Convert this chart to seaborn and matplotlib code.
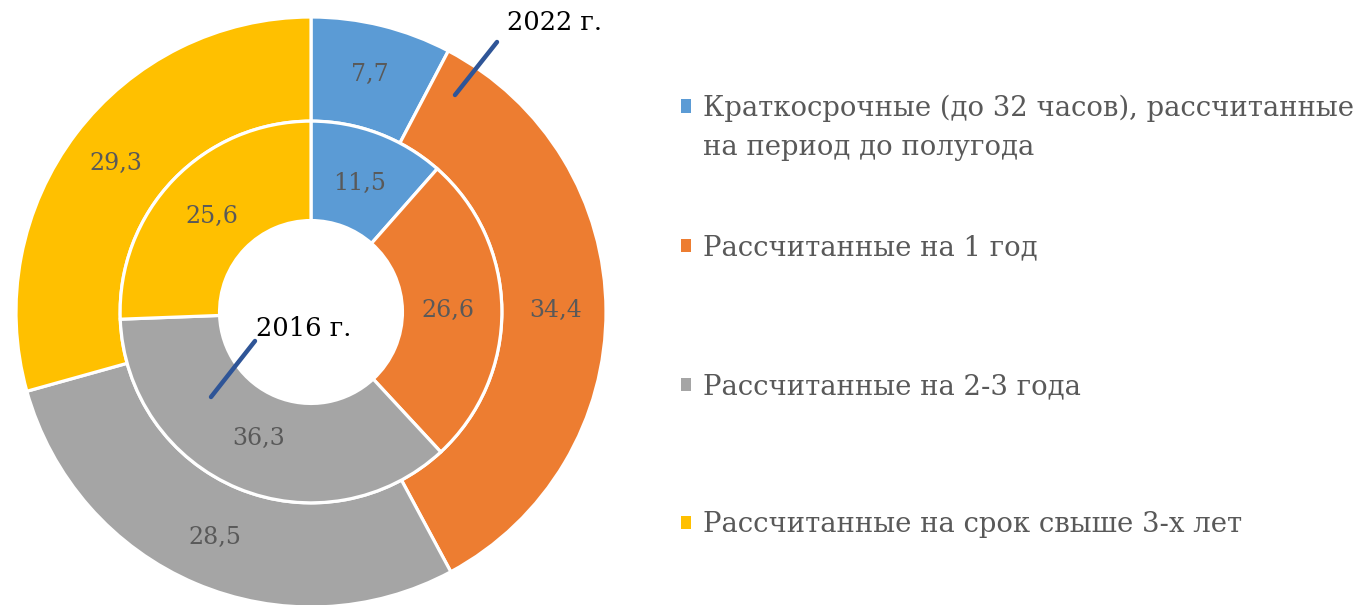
import matplotlib
matplotlib.use("Agg")
import matplotlib.pyplot as plt
import matplotlib.patches as mpatches
import seaborn as sns
import numpy as np

categories = ["Краткосрочные (до 32 часов), рассчитанные",
              "Рассчитанные на 1 год",
              "Рассчитанные на 2-3 года",
              "Рассчитанные на срок свыше 3-х лет"]
category_line2 = "на период до полугода"
values_2022 = [7.7, 34.4, 28.5, 29.3]
values_2016 = [11.5, 26.6, 36.3, 25.6]
labels_2022 = ["7,7", "34,4", "28,5", "29,3"]
labels_2016 = ["11,5", "26,6", "36,3", "25,6"]
series_names = ["2022 г.", "2016 г."]

sns.set_theme(style="white")
plt.rcParams["font.family"] = ["DejaVu Serif", "DejaVu Sans"]
colors = sns.color_palette(["#5B9BD5", "#ED7D31", "#A5A5A5", "#FFC000"])

W, H = 1362, 605
fig = plt.figure(figsize=(W / 100, H / 100), dpi=100)
R = 295.0
cx, cy = 311, 312
ax = fig.add_axes([(cx - R) / W, (H - cy - R) / H, 2 * R / W, 2 * R / H])
ax.set_xlim(-1, 1)
ax.set_ylim(-1, 1)
ax.axis("off")

def px(x, y):
    return ((x - cx) / R, (cy - y) / R)

edge = dict(edgecolor="white", linewidth=2.3)
outer, _ = ax.pie(values_2022, radius=1.0, colors=colors, startangle=90,
                  counterclock=False, wedgeprops=dict(width=0.353, **edge))
inner, _ = ax.pie(values_2016, radius=0.647, colors=colors, startangle=90,
                  counterclock=False, wedgeprops=dict(width=0.337, **edge))
ax.set_xlim(-1, 1)
ax.set_ylim(-1, 1)

lab_col = "#595959"
fs_lab = 17
for wedges, labs, r in ((outer, labels_2022, 0.83), (inner, labels_2016, 0.465)):
    for w, t in zip(wedges, labs):
        a = np.deg2rad((w.theta1 + w.theta2) / 2)
        ax.text(r * np.cos(a), r * np.sin(a), t, ha="center", va="center",
                fontsize=fs_lab, color=lab_col)

# series labels with leader lines
line_col = "#2F5597"
ax.annotate("", xy=px(455, 95), xytext=px(497, 42),
            arrowprops=dict(arrowstyle="-", color=line_col, lw=3.2, shrinkA=0, shrinkB=0))
ax.text(*px(507, 23), series_names[0], ha="left", va="center", fontsize=18.5, color="black")
ax.annotate("", xy=px(211, 397), xytext=px(255, 341),
            arrowprops=dict(arrowstyle="-", color=line_col, lw=3.2, shrinkA=0, shrinkB=0))
ax.text(*px(256, 328), series_names[1], ha="left", va="center", fontsize=18.5, color="black")

# legend
fs_leg = 19.8
ys = [108, 248, 387, 525]
for w, lab, y in zip(outer, categories, ys):
    h = mpatches.Patch(facecolor=w.get_facecolor(), edgecolor="none")
    fig.legend([h], [lab], loc="center left", bbox_to_anchor=(681 / W, 1 - y / H),
               frameon=False, fontsize=fs_leg, labelcolor=lab_col,
               handlelength=0.37, handleheight=0.37, handletextpad=0.42,
               borderpad=0, borderaxespad=0)
fig.text(703 / W, 1 - 148 / H, category_line2, ha="left", va="center",
         fontsize=fs_leg, color=lab_col)

fig.savefig("out.png", dpi=100)
